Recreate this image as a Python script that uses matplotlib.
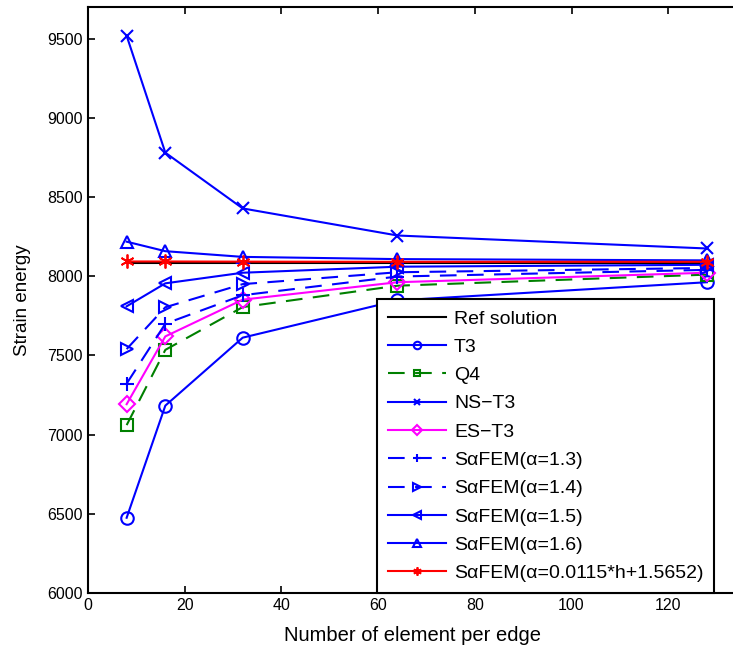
import matplotlib
matplotlib.use('Agg')
import matplotlib.pyplot as plt

plt.rcParams['font.family'] = ['Liberation Sans', 'DejaVu Sans']

# ----------- data -------------------------------------
n_elem = [8, 16, 32, 64, 128]

ref_solution = [8086, 8086, 8086, 8086, 8086]
t3 = [6475, 7183, 7612, 7847, 7962]
q4 = [7060, 7535, 7805, 7940, 8010]
ns_t3 = [9518, 8780, 8428, 8257, 8175]
es_t3 = [7192, 7620, 7852, 7962, 8022]
sa_13 = [7322, 7700, 7880, 7998, 8040]
sa_14 = [7540, 7804, 7950, 8025, 8052]
sa_15 = [7810, 7955, 8022, 8060, 8072]
sa_16 = [8218, 8158, 8122, 8108, 8100]
sa_fit = [8093, 8093, 8092, 8091, 8091]

labels = ['Ref solution', 'T3', 'Q4', 'NS\u2212T3', 'ES\u2212T3',
          'S\u03b1FEM(\u03b1=1.3)', 'S\u03b1FEM(\u03b1=1.4)',
          'S\u03b1FEM(\u03b1=1.5)', 'S\u03b1FEM(\u03b1=1.6)',
          'S\u03b1FEM(\u03b1=0.0115*h+1.5652)']

fig = plt.figure(figsize=(7.33, 6.49), dpi=100)
ax = fig.add_axes([0.120, 0.0863, 0.9236, 0.903])

lw = 1.5
ms = 9
dash = (0, (8, 5))
blue = (0, 0, 1)
green = (0, 0.5, 0)

ax.plot(n_elem, ref_solution, color='k', lw=lw, label=labels[0])
ax.plot(n_elem, t3, color=blue, lw=lw, marker='o', ms=ms, mfc='none', mew=lw, label=labels[1])
ax.plot(n_elem, q4, color=green, lw=lw, ls=dash, marker='s', ms=ms - 1, mfc='none', mew=lw, label=labels[2])
ax.plot(n_elem, ns_t3, color=blue, lw=lw, marker='x', ms=ms - 1, mew=lw, label=labels[3])
ax.plot(n_elem, es_t3, color=(1, 0, 1), lw=lw, marker='D', ms=ms - 1, mfc='none', mew=lw, label=labels[4])
ax.plot(n_elem, sa_13, color=blue, lw=lw, ls=dash, marker='+', ms=ms + 1, mew=lw, label=labels[5])
ax.plot(n_elem, sa_14, color=blue, lw=lw, ls=dash, marker='>', ms=ms, mfc='none', mew=lw, label=labels[6])
ax.plot(n_elem, sa_15, color=blue, lw=lw, marker='<', ms=ms, mfc='none', mew=lw, label=labels[7])
ax.plot(n_elem, sa_16, color=blue, lw=lw, marker='^', ms=ms, mfc='none', mew=lw, label=labels[8])
ax.plot(n_elem, sa_fit, color='r', lw=lw, marker=(6, 2, 0), ms=ms + 1, mew=1.3, label=labels[9])

ax.set_xlim(0, 140)
ax.set_ylim(6000, 9700)
ax.set_xticks([0, 20, 40, 60, 80, 100, 120])
ax.set_yticks(range(6000, 9501, 500))
ax.tick_params(direction='in', length=5, width=1.2, labelsize=11.5, top=True, right=True)
for s in ax.spines.values():
    s.set_linewidth(1.5)

ax.set_xlabel('Number of element per edge', fontsize=14.5)
ax.xaxis.set_label_coords(0.48, -0.056)
ax.set_ylabel('Strain energy', fontsize=13.5, labelpad=12)

leg = ax.legend(loc='lower right', bbox_to_anchor=(0.925, 0.0), borderaxespad=0,
                fontsize=14, handlelength=3.0, handletextpad=0.4, labelspacing=0.55,
                borderpad=0.55, fancybox=False, framealpha=1, edgecolor='k', markerscale=0.6)
leg.get_frame().set_linewidth(1.5)

fig.savefig('out.png', dpi=100)
plt.close()
